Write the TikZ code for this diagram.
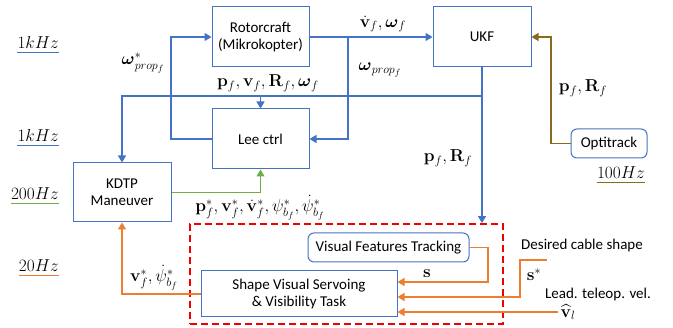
\documentclass[tikz,border=0pt]{standalone}
\usepackage{amsmath,amssymb}
\usepackage[no-math]{fontspec}
\setmainfont{Carlito}
\usetikzlibrary{arrows.meta,calc}
\definecolor{cblue}{RGB}{68,114,196}
\definecolor{cgreen}{RGB}{112,173,71}
\definecolor{corange}{RGB}{237,125,49}
\definecolor{colive}{RGB}{135,108,30}
\definecolor{cred}{RGB}{240,0,0}
\tikzset{
  box/.style={draw=cblue, line width=1pt, align=center, inner sep=0pt,
    font=\fontsize{15}{17}\selectfont},
  rbox/.style={box, rounded corners=6pt},
  tip/.style={-{Triangle[length=7pt,width=8pt]}},
  bl/.style={draw=cblue, line width=1.1pt},
  gr/.style={draw=cgreen, line width=1.1pt},
  orl/.style={draw=corange, line width=1.2pt},
  ol/.style={draw=colive, line width=1.2pt},
  mlab/.style={inner sep=0pt, font=\fontsize{18}{20}\selectfont},
  tlab/.style={inner sep=0pt, font=\fontsize{15}{17}\selectfont},
  freq/.style={inner sep=0pt, anchor=east, font=\fontsize{18}{20}\selectfont},
}
\begin{document}
\begin{tikzpicture}[x=1pt,y=-1pt]
\useasboundingbox (0,0) rectangle (673,328);
% boxes
\node[box, minimum width=97, minimum height=60] (rotor) at (260.5,37) {Rotorcraft\\(Mikrokopter)};
\node[box, minimum width=98, minimum height=60] (ukf) at (482,37) {UKF};
\node[box, minimum width=97, minimum height=60] (lee) at (260.5,139) {Lee ctrl};
\node[box, minimum width=98, minimum height=59] (kdtp) at (122,192.5) {KDTP\\Maneuver};
\node[rbox, minimum width=76, minimum height=29] (opti) at (609,143.5) {Optitrack};
\node[rbox, minimum width=161, minimum height=29] (vft) at (388.5,247.5) {Visual Features Tracking};
\node[box, minimum width=196, minimum height=46] (svs) at (299,294) {Shape Visual Servoing\\\& Visibility Task};
\node[draw=cred, line width=1.8pt, dash pattern=on 7pt off 4pt, minimum width=313, minimum height=100, inner sep=0pt] (red) at (346.5,274) {};
% frequency labels
\node[freq] (f1) at (59,43) {$1kHz$};
\node[freq] (f2) at (59,136) {$1kHz$};
\node[freq] (f3) at (59,194) {$200Hz$};
\node[freq] (f4) at (59,266) {$20Hz$};
\node[freq] (f5) at (645,173) {$100Hz$};
\draw[cblue, line width=1.2pt] ([yshift=-3pt]f1.south west) -- ([yshift=-3pt]f1.south east);
\draw[cblue, line width=1.2pt] ([yshift=-3pt]f2.south west) -- ([yshift=-3pt]f2.south east);
\draw[cgreen, line width=1.2pt] ([yshift=-3pt]f3.south west) -- ([yshift=-3pt]f3.south east);
\draw[corange, line width=1.2pt] ([yshift=-3pt]f4.south west) -- ([yshift=-3pt]f4.south east);
\draw[colive, line width=1.2pt] ([yshift=-3pt]f5.south west) -- ([yshift=-3pt]f5.south east);
% coordinates
\coordinate (b1) at (348,37);
\coordinate (b2) at (482,96);
\coordinate (c1) at (171,139);
\coordinate (v1) at (488,247.5);
\coordinate (sd) at (547,260);
\coordinate (sd2) at (520,260);
\coordinate (vl) at (558,312);
\coordinate (o1) at (551,143.5);
% connectors
\draw[bl, tip] (rotor.east) -- (ukf.west);
\draw[bl, tip] (b1) |- (lee.east);
\draw[bl, tip] (ukf.south) -- (ukf.south |- red.north);
\draw[bl, tip] (b2) -| (kdtp.north);
\draw[bl, tip] (lee.north |- b2) -- (lee.north);
\draw[bl, tip] (lee.west) -- (c1) |- (rotor.west);
\draw[gr, tip] (kdtp.east) -| (lee.south);
\draw[orl, tip] (svs.west) -| (kdtp.south);
\draw[orl, tip] (vft.east) -- (v1) |- ($(svs.east)+(0,-12)$);
\draw[orl, tip] (sd) -- (sd2) |- ($(svs.east)+(0,3)$);
\draw[orl, tip] (vl) -- (svs.east |- vl);
\draw[ol, tip] (opti.west) -- (o1) |- (ukf.east);
% labels
\node[mlab] (l1) at (383,24) {$\dot{\mathbf v}_f,\boldsymbol\omega_f$};
\node[mlab] (l2) at (380,70) {$\boldsymbol\omega_{prop_f}$};
\node[mlab] (l3) at (268,83) {$\mathbf p_f,\mathbf v_f,\mathbf R_f,\boldsymbol\omega_f$};
\node[mlab] (l4) at (143,63) {$\boldsymbol\omega^*_{prop_f}$};
\node[mlab] (l5) at (448,158) {$\mathbf p_f,\mathbf R_f$};
\node[mlab] (l6) at (583,88) {$\mathbf p_f,\mathbf R_f$};
\node[mlab] (l7) at (260,208) {$\mathbf p^*_f,\mathbf v^*_f,\dot{\mathbf v}^*_f,\psi^*_{b_f},\dot\psi^*_{b_f}$};
\node[mlab] (l8) at (154,278) {$\mathbf v^*_f,\dot\psi^*_{b_f}$};
\node[mlab] (l9) at (427,274) {$\mathbf s$};
\node[tlab] (l10) at (582,246) {Desired cable shape};
\node[mlab] (l11) at (534,275) {$\mathbf s^*$};
\node[tlab] (l12) at (598,295) {Lead. teleop. vel.};
\node[mlab] (l13) at (568,312) {$\widehat{\mathbf v}_l$};
\end{tikzpicture}
\end{document}
